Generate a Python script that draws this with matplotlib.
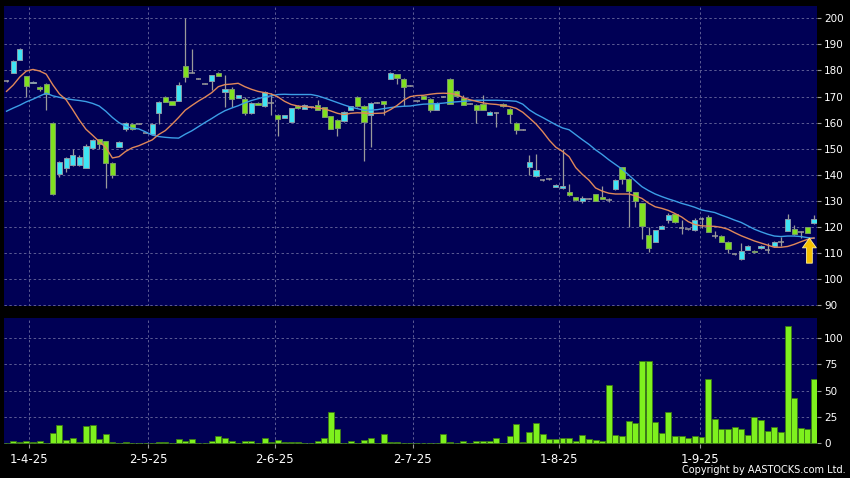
import numpy as np
import matplotlib.pyplot as plt

# daily candles (index 0 = first bar on the left)
opens = [176.0, 179.2, 184.2, 177.8, 175.2, 173.7, 174.9, 160.0, 140.4, 142.7,
         143.8, 143.8, 142.7, 150.3, 153.6, 152.9, 144.6, 150.8, 157.7, 159.6,
         159.6, 156.2, 155.6, 163.8, 170.0, 168.2, 168.5, 181.9, 179.1, 176.8,
         175.0, 176.0, 179.2, 171.8, 173.1, 169.5, 169.2, 163.7, 167.7, 166.4,
         167.7, 163.1, 161.9, 160.3, 166.4, 165.4, 166.0, 166.7, 165.9, 162.4,
         161.2, 160.6, 165.0, 170.0, 166.4, 162.8, 167.7, 168.2, 176.9, 178.5,
         176.9, 174.1, 168.2, 170.1, 169.2, 165.0, 169.9, 176.7, 172.2, 169.6,
         167.2, 166.9, 167.3, 163.1, 163.8, 167.2, 165.4, 160.0, 157.3, 142.9,
         139.5, 138.2, 138.5, 135.4, 135.0, 133.6, 131.5, 130.1, 130.8, 132.6,
         131.7, 130.4, 134.6, 142.9, 138.5, 133.3, 129.2, 116.9, 114.4, 119.4,
         122.7, 124.9, 119.6, 119.2, 118.8, 123.1, 123.8, 116.7, 116.7, 114.5,
         109.6, 107.7, 111.3, 111.0, 111.9, 111.2, 112.6, 114.5, 118.6, 119.2,
         118.3, 120.0, 121.4]
highs = [176.3, 184.0, 188.5, 178.0, 175.9, 173.9, 175.2, 160.2, 145.2, 146.8,
         150.0, 147.7, 151.9, 153.8, 153.8, 153.1, 144.8, 153.0, 160.1, 159.8,
         159.8, 156.4, 159.8, 168.3, 170.2, 168.4, 175.6, 200.0, 188.2, 177.0,
         175.2, 178.3, 179.5, 178.2, 173.8, 170.7, 169.9, 167.9, 167.9, 172.0,
         171.2, 163.3, 163.0, 165.8, 166.6, 167.1, 166.2, 168.8, 166.1, 162.6,
         161.4, 164.3, 166.5, 170.2, 166.6, 167.8, 167.9, 168.4, 179.4, 178.7,
         177.1, 174.3, 168.4, 170.3, 169.4, 167.9, 170.1, 177.0, 172.4, 170.6,
         167.4, 167.1, 170.5, 164.3, 164.0, 167.4, 165.6, 160.2, 157.5, 147.7,
         148.1, 138.6, 138.9, 136.4, 150.0, 136.5, 131.7, 132.0, 131.0, 132.8,
         135.9, 131.0, 138.3, 143.1, 138.7, 133.5, 129.4, 119.9, 119.0, 120.7,
         125.5, 125.1, 122.8, 119.4, 123.4, 124.0, 124.8, 118.6, 116.9, 114.7,
         109.8, 113.8, 113.0, 111.2, 113.0, 114.1, 114.7, 116.2, 125.0, 120.8,
         118.5, 120.2, 124.6]
lows = [175.7, 179.0, 184.0, 170.0, 175.1, 172.1, 164.9, 132.5, 139.1, 141.0,
        143.6, 143.6, 142.5, 150.1, 150.0, 134.9, 138.7, 150.6, 156.8, 157.2,
        159.4, 156.0, 155.4, 159.6, 167.8, 166.7, 168.3, 175.6, 178.9, 176.6,
        174.8, 172.4, 177.7, 166.0, 166.0, 169.3, 162.8, 163.5, 166.7, 166.2,
        162.8, 154.9, 161.7, 160.1, 165.4, 165.2, 165.8, 164.8, 162.0, 157.5,
        154.9, 160.4, 164.8, 166.2, 145.3, 150.6, 167.5, 162.8, 176.7, 175.0,
        166.4, 173.9, 168.0, 169.0, 164.0, 164.8, 169.7, 167.1, 169.9, 166.7,
        167.0, 160.0, 164.8, 162.9, 158.3, 166.2, 160.0, 155.8, 157.1, 140.0,
        139.3, 137.8, 138.1, 135.2, 134.8, 132.1, 130.2, 129.4, 130.6, 129.9,
        130.6, 129.8, 134.4, 136.5, 119.9, 127.6, 115.6, 110.5, 114.2, 119.2,
        121.5, 121.6, 117.3, 119.0, 118.6, 119.5, 118.0, 115.7, 114.3, 110.2,
        109.4, 107.5, 111.1, 110.1, 111.7, 110.0, 112.4, 112.9, 118.4, 117.1,
        116.0, 117.7, 121.2]
closes = [176.0, 183.7, 188.1, 174.1, 175.7, 172.8, 171.0, 132.7, 144.9, 146.4,
          147.7, 146.8, 151.0, 153.5, 151.9, 144.6, 139.9, 152.8, 159.9, 157.4,
          159.6, 156.2, 159.6, 168.0, 168.0, 166.9, 174.6, 177.6, 179.1, 176.8,
          175.0, 178.1, 177.9, 173.1, 169.2, 170.5, 163.7, 167.7, 166.9, 171.8,
          167.7, 161.3, 162.8, 165.6, 165.6, 166.9, 166.0, 165.0, 162.2, 157.7,
          157.9, 164.1, 166.3, 166.4, 160.3, 167.6, 167.7, 167.1, 179.2, 177.2,
          173.8, 174.1, 168.2, 169.2, 165.0, 167.7, 169.9, 167.3, 170.1, 166.9,
          167.2, 165.0, 165.0, 164.1, 163.8, 166.4, 163.3, 157.3, 157.3, 145.1,
          141.7, 138.2, 138.5, 136.2, 135.6, 132.3, 130.4, 131.0, 130.8, 130.1,
          130.8, 130.4, 138.1, 138.5, 133.7, 130.0, 120.3, 112.2, 118.8, 120.5,
          124.6, 121.8, 119.6, 119.2, 122.6, 123.1, 118.2, 116.7, 114.5, 111.8,
          109.6, 110.8, 112.8, 110.3, 112.8, 111.2, 114.5, 114.5, 123.1, 117.3,
          118.3, 117.9, 123.1]
volumes = [0.5, 2.2, 1.0, 2.0, 1.0, 2.0, 0.6, 9.8, 17.0, 3.0,
           5.0, 1.3, 16.7, 17.4, 3.8, 8.8, 1.3, 0.3, 1.0, 0.3,
           0.3, 0.3, 0.3, 1.3, 1.3, 0.3, 3.8, 1.9, 4.1, 0.3,
           0.3, 2.5, 6.9, 5.0, 1.9, 0.3, 2.5, 1.9, 0.3, 5.0,
           1.3, 2.8, 1.0, 1.3, 1.0, 0.3, 0.3, 2.5, 5.0, 29.5,
           13.8, 0.3, 2.2, 0.3, 2.8, 5.0, 0.3, 8.5, 1.5, 1.0,
           0.5, 0.3, 0.3, 0.3, 0.3, 0.5, 8.5, 1.0, 0.3, 2.3,
           0.3, 1.8, 2.0, 2.3, 5.0, 0.3, 7.0, 18.3, 1.0, 10.7,
           19.6, 8.6, 3.7, 3.8, 4.6, 4.8, 2.3, 8.0, 4.2, 3.1,
           2.2, 55.3, 8.2, 6.7, 20.7, 19.6, 78.2, 77.7, 20.5, 9.8,
           29.7, 6.9, 6.6, 5.0, 6.6, 6.3, 61.2, 23.3, 13.2, 13.2,
           15.1, 13.9, 8.2, 24.6, 22.1, 11.7, 15.1, 11.0, 111.0, 42.9,
           14.8, 13.9, 61.2]
# moving averages as drawn on the chart
ma_short = [172.0, 174.4, 177.5, 179.8, 180.4, 179.8, 178.6, 174.5, 171.0, 168.8,
            165.0, 161.0, 157.5, 155.2, 152.8, 150.5, 146.5, 147.0, 149.0, 150.4,
            151.2, 152.3, 153.4, 155.5, 157.0, 159.4, 162.0, 164.8, 166.6, 168.3,
            169.8, 171.5, 173.8, 174.6, 174.8, 175.1, 173.8, 172.8, 172.0, 171.5,
            171.0, 169.9, 168.2, 167.0, 166.4, 166.1, 165.9, 165.6, 165.3, 164.5,
            163.6, 163.1, 163.6, 163.8, 163.7, 163.5, 163.6, 163.7, 165.0, 166.6,
            168.6, 170.0, 170.4, 170.5, 170.9, 171.2, 171.3, 171.2, 170.8, 169.6,
            168.8, 168.2, 167.6, 167.2, 167.0, 166.6, 166.2, 165.5, 164.0, 161.8,
            159.5, 156.6, 153.3, 150.6, 149.0, 147.0, 142.8, 140.2, 138.0, 135.0,
            133.8, 133.0, 132.7, 132.7, 132.7, 132.0, 131.0, 129.2, 127.8, 127.2,
            126.4, 125.2, 123.9, 122.1, 121.0, 120.5, 120.4, 120.3, 119.9, 119.2,
            117.9, 116.7, 115.7, 114.7, 113.9, 113.1, 112.3, 112.3, 112.6, 113.4,
            114.4, 115.3, 115.9]
ma_long = [164.4, 165.6, 166.7, 168.0, 169.0, 170.2, 171.3, 170.3, 169.7, 169.2,
           168.8, 168.5, 168.1, 167.4, 166.4, 164.4, 162.0, 160.0, 158.6, 157.9,
           157.6, 156.5, 155.3, 154.7, 154.4, 154.2, 154.1, 155.6, 156.9, 158.5,
           160.1, 161.6, 163.2, 164.6, 165.6, 166.5, 167.6, 168.5, 169.2, 169.9,
           170.3, 170.8, 170.9, 170.8, 170.8, 170.8, 170.8, 170.3, 169.5, 168.6,
           167.7, 166.8, 166.0, 165.4, 164.8, 164.8, 165.0, 165.4, 165.8, 166.1,
           166.3, 166.4, 166.8, 167.1, 167.2, 167.3, 167.5, 167.8, 168.0, 168.2,
           168.4, 168.6, 168.6, 168.6, 168.6, 168.5, 168.4, 168.2, 167.1, 164.9,
           163.3, 162.0, 160.6, 159.2, 158.0, 157.3, 155.4, 153.5, 151.7, 149.6,
           147.8, 145.8, 144.0, 142.2, 140.0, 137.7, 135.5, 134.0, 132.7, 131.7,
           130.8, 130.0, 129.1, 128.4, 127.6, 126.6, 126.1, 125.6, 124.6, 123.7,
           122.7, 121.8, 120.5, 119.2, 118.2, 117.3, 116.6, 116.4, 116.6, 116.6,
           116.4, 116.0, 115.7]

tick_pos = [3.4, 21.4, 40.5, 61.4, 83.5, 104.7]
tick_labels = ['1-4-25', '2-5-25', '2-6-25', '2-7-25', '1-8-25', '1-9-25']

o = np.array(opens)
h = np.array(highs)
l = np.array(lows)
c = np.array(closes)
x = np.arange(len(o))

bg = '#000055'
grid_col = '#5c5c94'

fig = plt.figure(figsize=(8.5, 4.78), dpi=100, facecolor='black')
ax1 = fig.add_axes([4/850, 1-306/478, 813/850, 300/478], facecolor=bg)
ax2 = fig.add_axes([4/850, 1-444.3/478, 813/850, 126/478], facecolor=bg)

for ax in (ax1, ax2):
    for s in ax.spines.values():
        s.set_visible(False)
    ax.set_xlim(-0.38, 122.45)
    ax.yaxis.tick_right()
    ax.tick_params(axis='y', colors='#9a9a9a', labelcolor='white', length=3, pad=2, labelsize=7.5)
    ax.grid(True, color=grid_col, linestyle=(0, (2.5, 2.5)), linewidth=0.7)
    ax.set_axisbelow(True)

# price panel
ax1.set_ylim(89.8, 204.7)
ax1.set_yticks(range(90, 201, 10))
ax1.set_xticks(tick_pos)
ax1.tick_params(axis='x', length=0, labelbottom=False)

ax1.vlines(x, l, h, color='#9a9a9a', linewidth=0.9, zorder=2)
up = c > o
dn = c < o
flat = c == o
ax1.bar(x[up], (c - o)[up], bottom=o[up], width=0.78, color='#3ee4f4',
        edgecolor='#8a9aa8', linewidth=0.7, zorder=3)
ax1.bar(x[dn], (o - c)[dn], bottom=c[dn], width=0.78, color='#80e020',
        edgecolor='#7a9a6a', linewidth=0.7, zorder=3)
ax1.hlines(c[flat], x[flat] - 0.42, x[flat] + 0.42, color='#9a9a9a', linewidth=1.1, zorder=3)

ax1.plot(x, ma_long, color='#3c9ee6', linewidth=1.0, zorder=4)
ax1.plot(x, ma_short, color='#e0885a', linewidth=1.0, zorder=4)

ax1.annotate('', xy=(121.3, 115.8), xytext=(121.3, 106.2),
             arrowprops=dict(arrowstyle='simple,head_width=1.0,head_length=0.7,tail_width=0.42',
                             fc='#f4c000', ec='#fff09a', lw=0.6, shrinkA=0, shrinkB=0),
             zorder=5)

# volume panel
ax2.set_ylim(-1, 118.5)
ax2.set_yticks([0, 25, 50, 75, 100])
ax2.bar(x, volumes, width=0.9, color='#7ef01e', edgecolor='#3c7a14', linewidth=0.6, zorder=3)
ax2.set_xticks(tick_pos)
ax2.set_xticklabels(tick_labels)
ax2.tick_params(axis='x', colors='#9a9a9a', labelcolor='white', length=3, pad=3, labelsize=8.5)

fig.text(846/850, 1-470/478, 'Copyright by AASTOCKS.com Ltd.', ha='right', va='center',
         color='white', fontsize=7)

fig.savefig('out.png', dpi=100, facecolor='black')
